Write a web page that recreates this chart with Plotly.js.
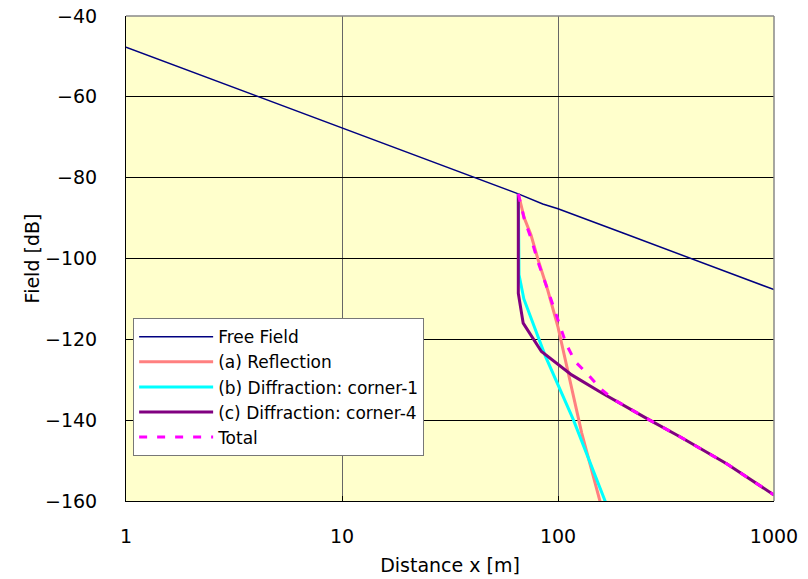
<!DOCTYPE html>
<html>
<head>
<meta charset="utf-8">
<script src="https://cdn.plot.ly/plotly-3.0.1.min.js"></script>
<style>html,body{margin:0;padding:0;background:#fff;}#chart{width:808px;height:579px;}</style>
</head>
<body>
<div id="chart"></div>
<script>
// Free field
const freeX = [1, 2, 5, 10, 20, 50, 65.5, 85, 100, 200, 500, 1000];
const freeY = [-47.7, -53.7, -61.7, -67.7, -73.7, -81.7, -84.0, -86.5, -87.7, -93.7, -101.7, -107.7];
// (a) Reflection
const reflX = [65.5, 69.8, 75, 81, 89.6, 100, 128.8, 160];
const reflY = [-84.0, -90.0, -94.2, -100.4, -107.8, -117.0, -143.2, -162.0];
// (b) Diffraction: corner-1
const cor1X = [65.5, 66, 69.5, 79, 87, 118, 168];
const cor1Y = [-84.0, -104.0, -110.0, -117.7, -123.9, -140.0, -161.0];
// (c) Diffraction: corner-4
const cor4X = [65.5, 65.5, 69, 83.8, 115.7, 159, 262, 367, 604, 1000];
const cor4Y = [-84.0, -108.6, -116.0, -123.0, -128.8, -133.2, -139.8, -144.1, -150.8, -158.5];
// Total
const totX = [65.5, 70, 75, 81, 90, 95.8, 102, 109, 120, 136, 159, 180, 262, 367, 604, 1000];
const totY = [-84.0, -90.5, -95.0, -101.0, -108.0, -112.3, -116.7, -121.1, -125.5, -128.4, -132.4, -134.8, -139.8, -144.1, -150.8, -158.5];

const names = ['Free Field', '(a) Reflection', '(b) Diffraction: corner-1', '(c) Diffraction: corner-4', 'Total'];
const xTicks = [1, 10, 100, 1000];
const xTickText = ['1', '10', '100', '1000'];
const yTicks = [-40, -60, -80, -100, -120, -140, -160];

const FONT = '"DejaVu Sans", sans-serif';

const traces = [
  {x: freeX, y: freeY, name: names[0], mode: 'lines', line: {color: '#000080', width: 1.5}},
  {x: reflX, y: reflY, name: names[1], mode: 'lines', line: {color: '#FF8080', width: 3}},
  {x: cor1X, y: cor1Y, name: names[2], mode: 'lines', line: {color: '#00FFFF', width: 3}},
  {x: cor4X, y: cor4Y, name: names[3], mode: 'lines', line: {color: '#800080', width: 3}},
  {x: totX, y: totY, name: names[4], mode: 'lines', line: {color: '#FF00FF', width: 3, dash: '8px,10px'}}
];

const layout = {
  width: 808, height: 579,
  margin: {l: 126, r: 34, t: 16, b: 78},
  paper_bgcolor: '#ffffff',
  plot_bgcolor: '#FFFFCC',
  font: {family: FONT, size: 19, color: '#000'},
  showlegend: true,
  legend: {
    x: 0.011, y: 0.377, xanchor: 'left', yanchor: 'top',
    bgcolor: '#ffffff', bordercolor: '#777', borderwidth: 1,
    font: {family: FONT, size: 17, color: '#000'},
    itemwidth: 74, tracegroupgap: 0
  },
  xaxis: {
    type: 'log', range: [0, 3],
    tickvals: xTicks, ticktext: xTickText,
    ticks: 'inside', ticklen: 5, tickcolor: '#000',
    showgrid: true, gridcolor: '#666', gridwidth: 1,
    showline: true, linecolor: '#000', linewidth: 1,
    zeroline: false, ticklabelstandoff: 18,
    tickfont: {family: FONT, size: 19},
    title: {text: 'Distance x [m]', font: {family: FONT, size: 19}, standoff: 12}
  },
  yaxis: {
    range: [-160, -40],
    tickvals: yTicks,
    ticks: 'inside', ticklen: 5, tickcolor: '#000',
    showgrid: true, gridcolor: '#000', gridwidth: 1,
    showline: true, linecolor: '#000', linewidth: 1,
    zeroline: false, ticklabelstandoff: 24,
    tickfont: {family: FONT, size: 19},
    title: {text: 'Field [dB]', font: {family: FONT, size: 19}, standoff: 0}
  },
  shapes: [
    {type: 'line', xref: 'paper', yref: 'paper', x0: 0, x1: 1, y0: 1, y1: 1, line: {color: '#888', width: 1.5}},
    {type: 'line', xref: 'paper', yref: 'paper', x0: 1, x1: 1, y0: 0, y1: 1, line: {color: '#888', width: 1.5}}
  ]
};

Plotly.newPlot('chart', traces, layout, {displayModeBar: false, staticPlot: true});
</script>
</body>
</html>
